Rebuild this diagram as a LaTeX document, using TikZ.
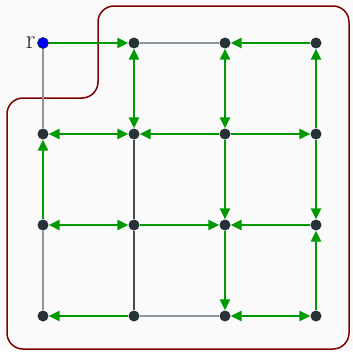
\documentclass[tikz,border=0pt]{standalone}
\usepackage{tikz}
\usetikzlibrary{arrows.meta}

\definecolor{bgcol}{HTML}{FAFAFA}
\definecolor{dotcol}{HTML}{263238}
\definecolor{treecol}{HTML}{009A00}
\definecolor{lightedge}{HTML}{8C959B}
\definecolor{darkedge}{HTML}{3E4E56}
\definecolor{boxcol}{HTML}{800000}

\begin{document}
\begin{tikzpicture}[x=1pt, y=-1pt,
    dot/.style={circle, fill=dotcol, inner sep=0pt, minimum size=11pt},
    rootdot/.style={dot, fill=blue, draw=dotcol, line width=0.6pt},
    tree/.style={treecol, line width=2.4pt, -{Triangle[length=11pt,width=10pt]}},
    twoway/.style={tree, {Triangle[length=11pt,width=10pt]}-{Triangle[length=11pt,width=10pt]}},
    plain/.style={lightedge, line width=1.3pt},
    plaindark/.style={darkedge, line width=1.3pt}]
    \fill[bgcol] (0,0) rectangle (353,351);
    \useasboundingbox (0,0) rectangle (353,351);

    % region boundary
    \draw[boxcol, line width=1.5pt, rounded corners=16pt]
      (200,6) -- (349,6) -- (349,349) -- (7,349) -- (7,98) -- (98,98) -- (98,6) -- cycle;

    % 4x4 grid of vertices, named column-row
    \foreach \c in {1,...,4} {
      \foreach \r in {1,...,4} {
        \node[dot] (\c\r) at ({43+91*(\c-1)}, {43+91*(\r-1)}) {};
      }
    }
    \node[rootdot, label={[inner sep=1.5pt, text=dotcol, font=\fontsize{27}{29}\selectfont]left:r}] at (11) {};

\begin{scope}
    \foreach \a/\b in {21/31, 24/34, 11/12, 13/14}
      \draw[plain] (\a) -- (\b);
    \foreach \a/\b in {22/23, 23/24}
      \draw[plaindark] (\a) -- (\b);
    \foreach \a/\b in {11/21, 41/31, 32/22, 32/42, 23/33, 43/33, 24/14,
                       13/12, 32/33, 33/34, 42/41, 42/43, 44/43}
      \draw[tree] (\a) -- (\b);
    \foreach \a/\b in {12/22, 13/23, 34/44, 21/22, 31/32}
      \draw[twoway] (\a) -- (\b);
\end{scope}

\end{tikzpicture}
\end{document}
